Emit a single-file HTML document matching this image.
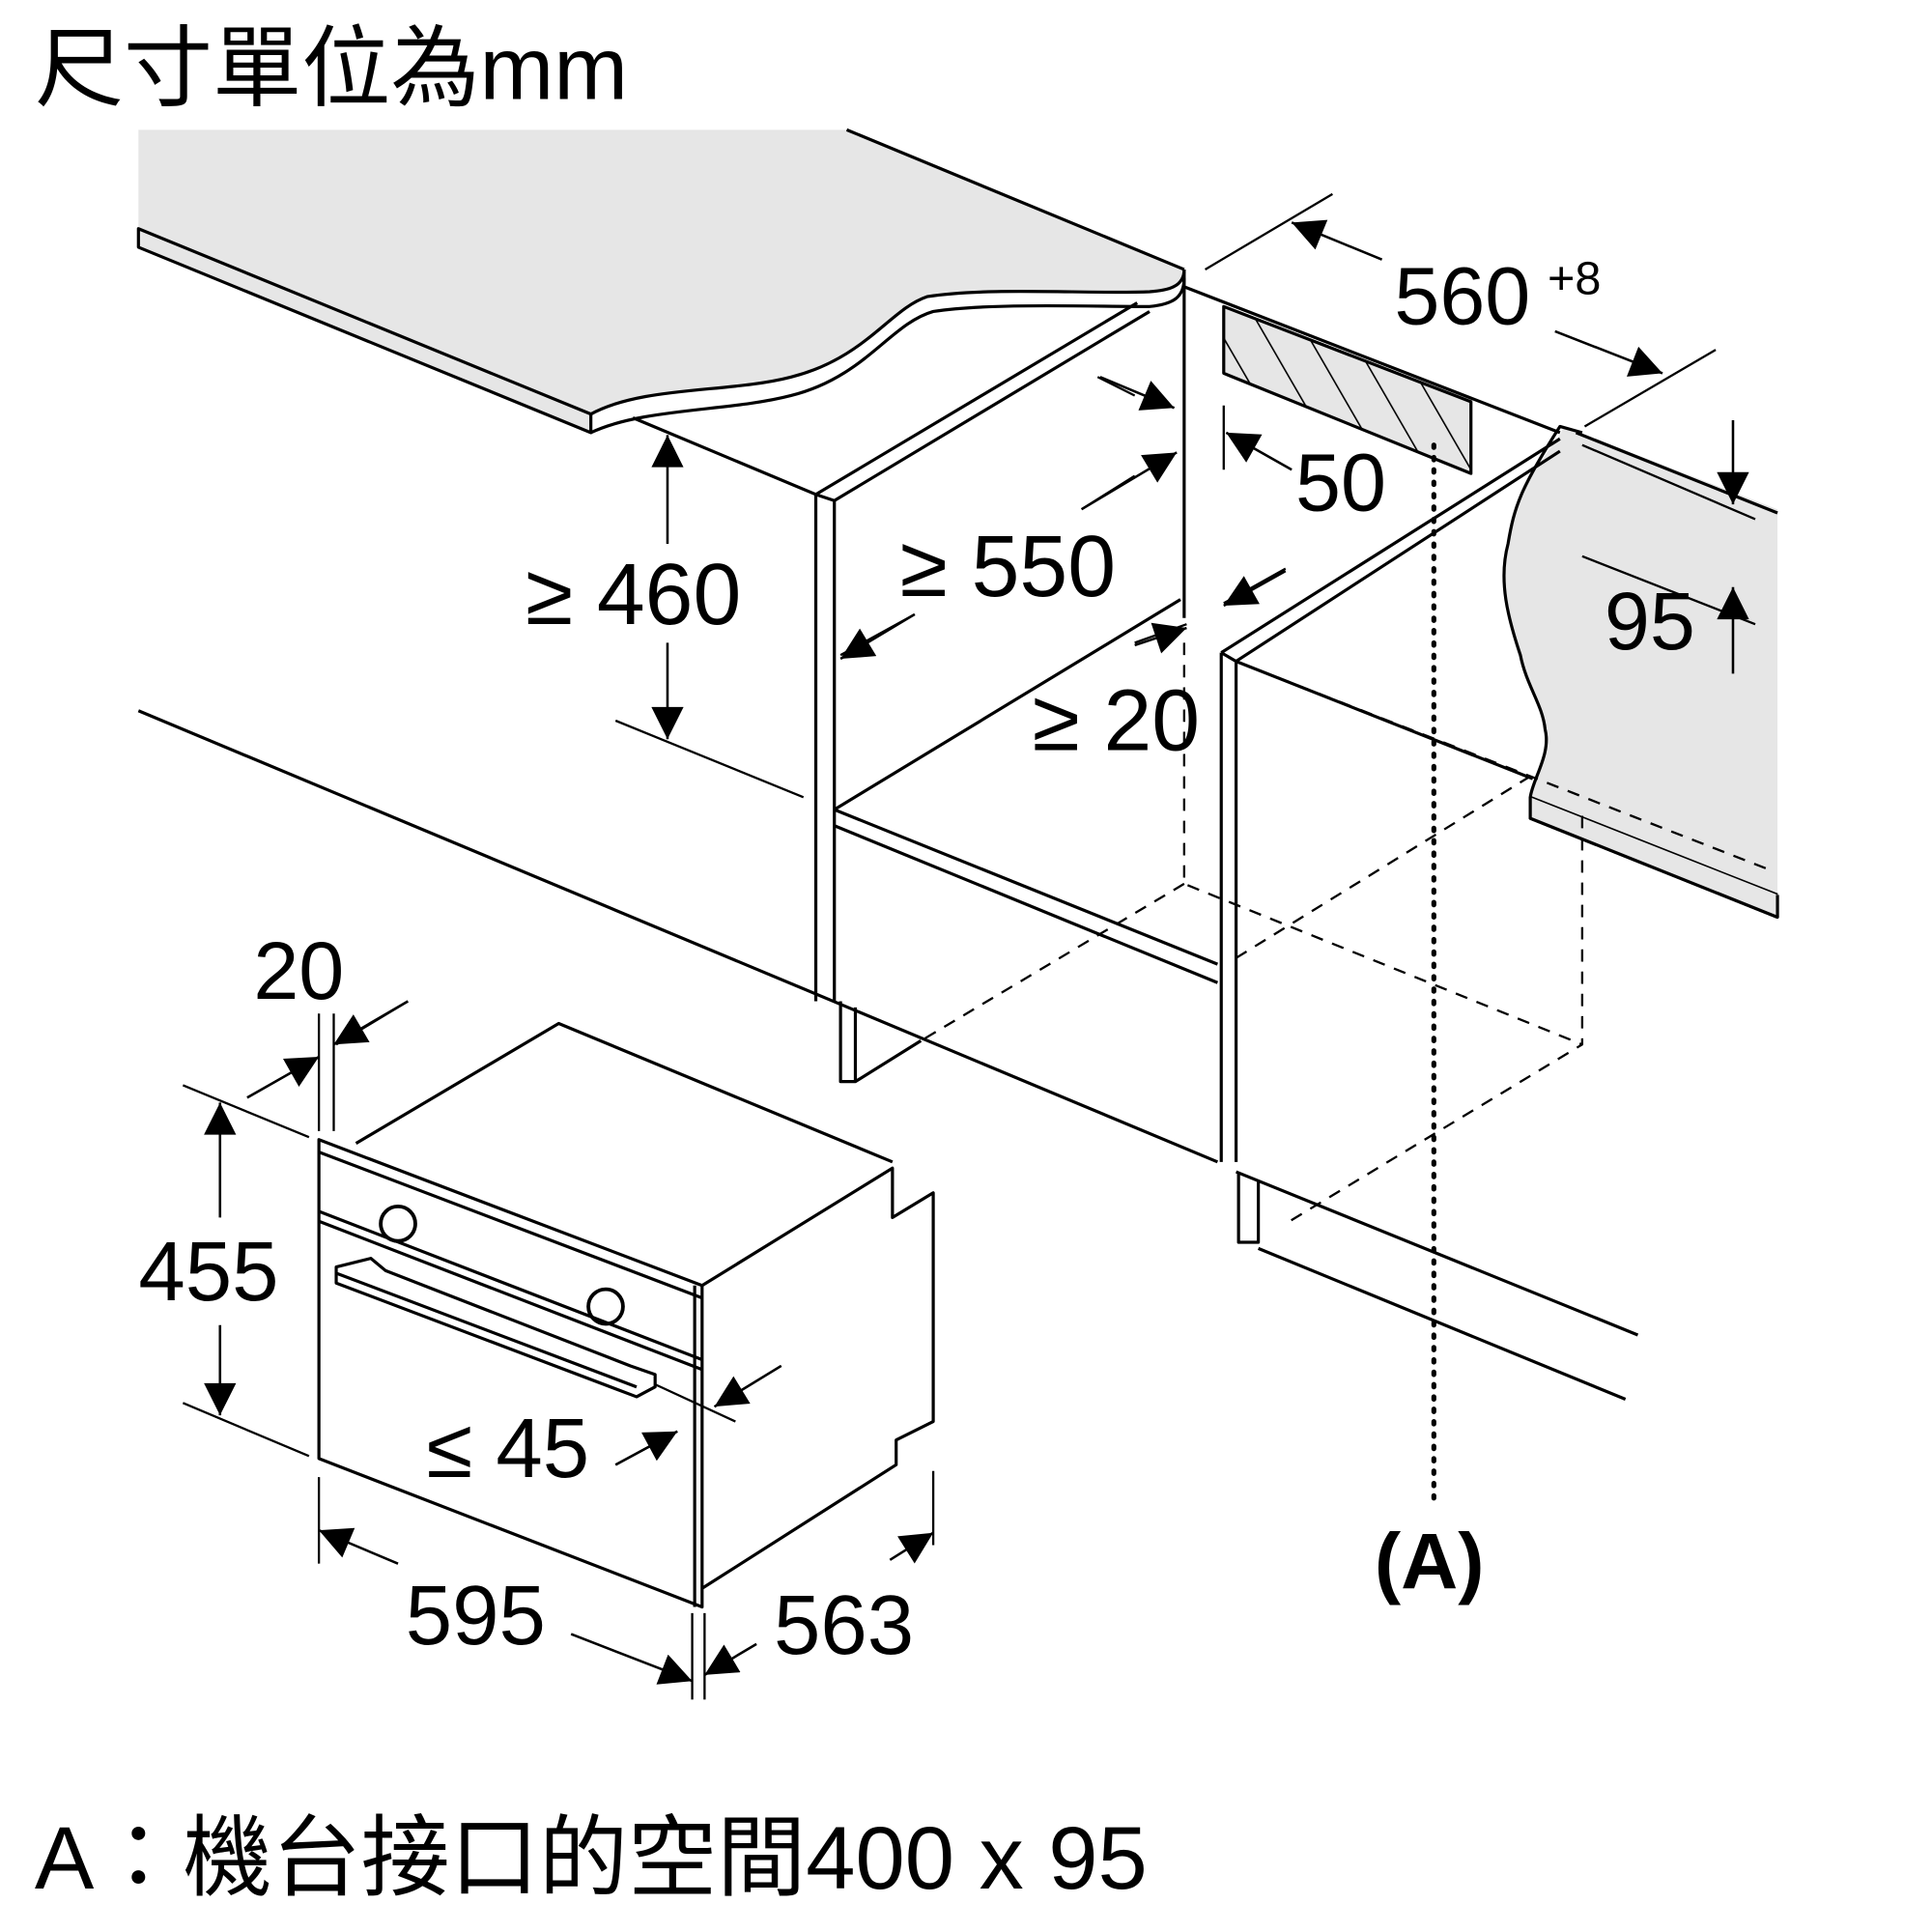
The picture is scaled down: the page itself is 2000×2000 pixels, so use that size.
<!DOCTYPE html>
<html><head><meta charset="utf-8"><style>
html,body{margin:0;padding:0;background:#fff}
svg{display:block}
text{font-family:"Liberation Sans","Noto Sans CJK TC",sans-serif;fill:#000}
</style></head><body>
<svg width="2000" height="2000" viewBox="0 0 1563 1563" xmlns="http://www.w3.org/2000/svg">
<defs>
<marker id="A" viewBox="0 0 10 10" refX="10" refY="5" markerWidth="32" markerHeight="26" markerUnits="userSpaceOnUse" orient="auto"><path d="M0,0 L10,5 L0,10 z"/></marker>
<pattern id="h" width="30" height="30" patternUnits="userSpaceOnUse" patternTransform="rotate(-30)"><rect width="30" height="30" fill="#e6e6e6"/><line x1="0" y1="0" x2="0" y2="30" stroke="#000" stroke-width="2.5"/></pattern>
</defs>
<g fill="none" stroke="#000" stroke-width="2.5" stroke-linejoin="round">
<path d="M112,105 L685,105 L958,218 C958,232 945,235 930,236 C880,238 800,232 750,240 C720,250 700,290 640,305 C590,318 520,312 478,335 L112,185 Z" fill="#e6e6e6" stroke="none"/>
<path d="M685,105 L958,218"/>
<path d="M112,185 L478,335 L478,350 L112,200 Z" fill="#e6e6e6"/>
<path d="M478,335 C520,312 590,318 640,305 C700,290 720,250 750,240 C800,232 880,238 930,236 C945,235 958,232 958,218" />
<path d="M478,350 C520,330 590,333 640,320 C700,305 720,262 755,252 C800,245 880,248 930,248 C950,246 958,240 958,225" />
<path d="M1265,345 L1438,412 L1438,742 L1238,662 L1238,645 C1240,630 1255,610 1250,590 C1248,570 1235,555 1230,530 C1220,500 1212,470 1220,440 C1225,410 1230,395 1262,352 Z" fill="#e6e6e6" stroke="none"/>
<path d="M1438,742 L1238,662 L1238,645 C1240,630 1255,610 1250,590 C1248,570 1235,555 1230,530 C1220,500 1212,470 1220,440 C1225,410 1230,395 1262,345 L1280,350"/>
<path d="M1238,645 L1438,724" />
<path d="M1238,645 L1238,662 L1438,742 L1438,724" fill="#e6e6e6"/>
<path d="M1275,350 L1438,415"/>
<path d="M958,232 L1262,350"/>
<path d="M958,218 L958,500"/>
<path d="M990,248 L1190,325 L1190,383 L990,302 Z" fill="url(#h)"/>
<path d="M512,338 L660,400 L660,810"/>
<path d="M660,400 L920,245"/>
<path d="M675,405 L930,252"/>
<path d="M660,400 L675,405 L675,810"/>
<path d="M675,655 L955,485"/>
<path d="M675,655 L985,780"/>
<path d="M675,668 L985,795"/>
<path d="M988,528 L1262,355"/>
<path d="M1000,535 L1262,365"/>
<path d="M988,528 L988,940 M1000,535 L1000,940 M988,528 L1000,535"/>
<path d="M1000,535 L1240,630"/>
<path d="M1002,948 L1002,1005 L1018,1005 L1018,955"/>
<path d="M112,575 L985,940"/>
<path d="M1000,948 L1325,1080"/>
<path d="M1018,1010 L1315,1132"/>
<path d="M680,810 L680,875 L692,875 L692,815 M692,875 L745,842"/>
<g stroke-dasharray="10,8" stroke-width="1.8">
<path d="M958,520 L958,715 L1280,845"/>
<path d="M958,715 L745,842"/>
<path d="M1000,775 L1238,628"/>
<path d="M1000,535 L1435,705"/>
<path d="M1280,660 L1280,845 L1040,990"/>
</g>
<path d="M1160,360 L1160,1215" stroke-dasharray="2,8" stroke-width="4" stroke-linecap="round"/>
<path d="M288,925 L452,828 L722,940"/>
<path d="M258,922 L568,1040 L568,1300 L258,1180 Z"/>
<path d="M258,932 L568,1050"/>
<path d="M258,980 L568,1100"/>
<path d="M258,988 L568,1108"/>
<path d="M568,1040 L722,945 L722,985 L755,965 L755,1150 L725,1165 L725,1185 L568,1285"/>
<path d="M562,1040 L562,1300"/>
<circle cx="322" cy="990" r="14" stroke-width="3"/>
<circle cx="490" cy="1057" r="14" stroke-width="3"/>
<path d="M272,1025 L300,1018 L312,1028 L510,1105 L530,1112 L530,1122 L515,1130 L272,1038 Z"/>
<path d="M272,1030 L515,1122"/>
<g stroke-width="1.8">
<path d="M975,218 L1078,157 M1282,345 L1388,283"/>
<path d="M875,412 L918,385 M888,305 L918,320 M680,530 L740,497"/>
<path d="M498,583 L650,645"/>
<path d="M990,328 L990,380"/>
<path d="M990,488 L1040,460 M918,520 L960,505"/>
<path d="M1280,360 L1420,420 M1280,450 L1420,505"/>
<path d="M148,878 L250,920 M148,1135 L250,1178"/>
<path d="M258,820 L258,915 M270,820 L270,915 M200,888 L258,855 M272,845 L330,810"/>
<path d="M258,1195 L258,1265 M560,1305 L560,1375 M570,1305 L570,1375 M755,1190 L755,1250"/>
<path d="M530,1120 L595,1150 M578,1138 L632,1105 M498,1185 L548,1158"/>
</g>
<g stroke-width="2">
<path d="M1118,210 L1045,180" marker-end="url(#A)"/>
<path d="M1258,268 L1345,302" marker-end="url(#A)"/>
<path d="M540,440 L540,352" marker-end="url(#A)"/>
<path d="M540,520 L540,598" marker-end="url(#A)"/>
<path d="M890,305 L950,330" marker-end="url(#A)"/>
<path d="M875,412 L952,366" marker-end="url(#A)"/>
<path d="M740,497 L680,533" marker-end="url(#A)"/>
<path d="M1045,380 L992,350" marker-end="url(#A)"/>
<path d="M1040,462 L990,490" marker-end="url(#A)"/>
<path d="M918,522 L960,508" marker-end="url(#A)"/>
<path d="M1402,340 L1402,408" marker-end="url(#A)"/>
<path d="M1402,545 L1402,475" marker-end="url(#A)"/>
<path d="M178,985 L178,892" marker-end="url(#A)"/>
<path d="M178,1072 L178,1145" marker-end="url(#A)"/>
<path d="M200,888 L258,855" marker-end="url(#A)"/>
<path d="M330,810 L270,845" marker-end="url(#A)"/>
<path d="M322,1265 L258,1238" marker-end="url(#A)"/>
<path d="M462,1322 L560,1360" marker-end="url(#A)"/>
<path d="M612,1330 L570,1355" marker-end="url(#A)"/>
<path d="M720,1262 L755,1240" marker-end="url(#A)"/>
<path d="M632,1105 L578,1138" marker-end="url(#A)"/>
<path d="M498,1185 L548,1158" marker-end="url(#A)"/>
</g>
</g>
<text x="28" y="80" font-size="72">尺寸單位為mm</text>
<text x="1128" y="262" font-size="66">560</text>
<text x="1252" y="238" font-size="38">+8</text>
<text x="425" y="505" font-size="70">≥ 460</text>
<text x="728" y="482" font-size="70">≥ 550</text>
<text x="1048" y="413" font-size="66">50</text>
<text x="835" y="607" font-size="70">≥ 20</text>
<text x="1298" y="525" font-size="66">95</text>
<text x="205" y="808" font-size="66">20</text>
<text x="112" y="1052" font-size="68">455</text>
<text x="345" y="1195" font-size="68">≤ 45</text>
<text x="328" y="1330" font-size="68">595</text>
<text x="626" y="1338" font-size="68">563</text>
<text x="1112" y="1285" font-size="64" font-weight="bold">(A)</text>
<text x="28" y="1528" font-size="72">A：機台接口的空間400 x 95</text>
</svg>
</body></html>
